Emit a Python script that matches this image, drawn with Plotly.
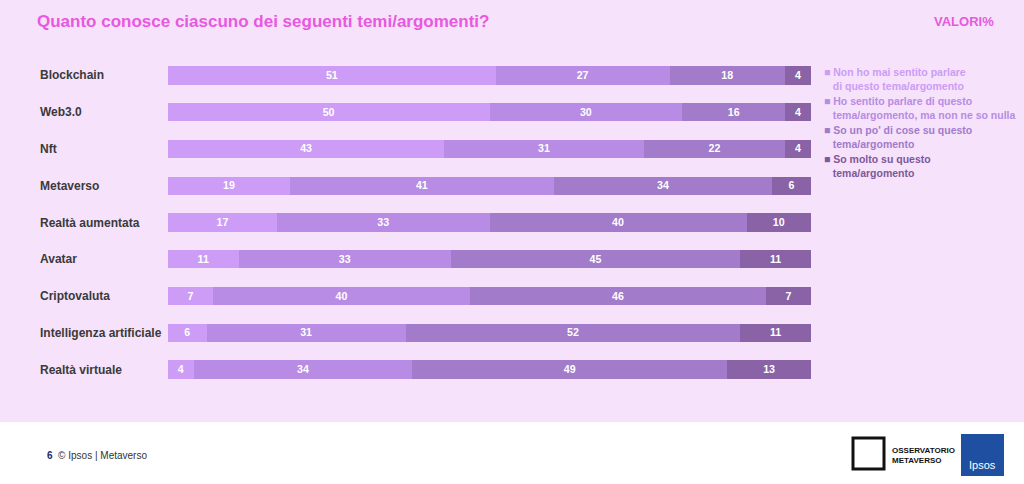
import plotly.graph_objects as go

categories = ["Blockchain","Web3.0","Nft","Metaverso","Realtà aumentata","Avatar","Criptovaluta","Intelligenza artificiale","Realtà virtuale"]
series_names = ["Non ho mai sentito parlare<br>di questo tema/argomento",
                "Ho sentito parlare di questo<br>tema/argomento, ma non ne so nulla",
                "So un po' di cose su questo<br>tema/argomento",
                "So molto su questo<br>tema/argomento"]
never = [51,50,43,19,17,11,7,6,4]
heard = [27,30,31,41,33,33,40,31,34]
some = [18,16,22,34,40,45,46,52,49]
much = [4,4,4,6,10,11,7,11,13]
colors = ["#cc9cf6", "#b88ce4", "#a27bcb", "#8a63a6"]
text_colors = ["#cc9cf6", "#b88ce4", "#a27bcb", "#7e5898"]

fig = go.Figure()
for vals, c in zip([never, heard, some, much], colors):
    fig.add_trace(go.Bar(y=categories, x=vals, orientation="h", marker_color=c,
                         marker_line_width=0, text=["<b>%d</b>" % v for v in vals], textposition="inside",
                         insidetextanchor="middle", textangle=0,
                         textfont=dict(color="white", size=12, family="Liberation Sans"),
                         showlegend=False))

fig.add_shape(type="rect", xref="paper", yref="paper", x0=0, x1=1, y0=1-422/484, y1=1,
              fillcolor="#f6e2fb", line_width=0, layer="below")

ly = [64, 93, 122, 151]
for i, (n, tc) in enumerate(zip(series_names, text_colors)):
    fig.add_annotation(xref="paper", yref="paper", x=822/1024, y=1-ly[i]/484, xanchor="left", yanchor="top",
                       text="<b>■ " + n.replace("<br>", "<br>   ") + "</b>", showarrow=False, align="left",
                       font=dict(color=tc, size=10.5, family="Liberation Sans"))

fig.add_annotation(xref="paper", yref="paper", x=35/1024, y=1-22/484, xanchor="left", yanchor="middle",
                   text="<b>Quanto conosce ciascuno dei seguenti temi/argomenti?</b>", showarrow=False,
                   font=dict(color="#e858e0", size=17, family="Liberation Sans"))
fig.add_annotation(xref="paper", yref="paper", x=996/1024, y=1-21/484, xanchor="right", yanchor="middle",
                   text="<b>VALORI%</b>", showarrow=False, font=dict(color="#e858e0", size=13, family="Liberation Sans"))
fig.add_annotation(xref="paper", yref="paper", x=45/1024, y=1-455/484, xanchor="left", yanchor="middle",
                   text="<b style='color:#1b2a6b'>6</b>  © Ipsos | Metaverso", showarrow=False,
                   font=dict(color="#333", size=10, family="Liberation Sans"))
fig.add_annotation(xref="paper", yref="paper", x=890/1024, y=1-455/484, xanchor="left", yanchor="middle",
                   text="<b>OSSERVATORIO<br>METAVERSO</b>", showarrow=False, align="left",
                   font=dict(color="#111", size=8, family="Liberation Sans"))
fig.add_shape(type="rect", xref="paper", yref="paper", x0=853/1024, x1=884/1024, y0=1-469/484, y1=1-438/484,
              line=dict(color="#111", width=3), fillcolor="white")
fig.add_shape(type="rect", xref="paper", yref="paper", x0=961/1024, x1=1004/1024, y0=1-476/484, y1=1-434/484,
              line_width=0, fillcolor="#1f4fa0")
fig.add_annotation(xref="paper", yref="paper", x=982/1024, y=1-465/484, xanchor="center", yanchor="middle",
                   text="Ipsos", showarrow=False, font=dict(color="white", size=11, family="Liberation Sans"))

fig.update_layout(width=1024, height=484, margin=dict(l=0, r=0, t=0, b=0),
                  barmode="stack", bargap=0.5, paper_bgcolor="white", plot_bgcolor="rgba(0,0,0,0)",
                  xaxis=dict(domain=[168/1024, 811/1024], range=[0, 100], visible=False),
                  yaxis=dict(domain=[1-388/484, 1-57/484], autorange="reversed", showticklabels=False,
                             showgrid=False, zeroline=False))
for i, c in enumerate(categories):
    fig.add_annotation(xref="paper", y=c, x=38/1024, xanchor="left", text="<b>" + c + "</b>",
                       showarrow=False, font=dict(color="#3a3a3a", size=12, family="Liberation Sans"))
fig.write_html("out.html", config={"displayModeBar": False})
with open("out.html", encoding="utf-8") as f:
    html = f.read()
html = html.replace("<body>", "<body style=\"margin:0;overflow:hidden\">", 1)
with open("out.html", "w", encoding="utf-8") as f:
    f.write(html)
